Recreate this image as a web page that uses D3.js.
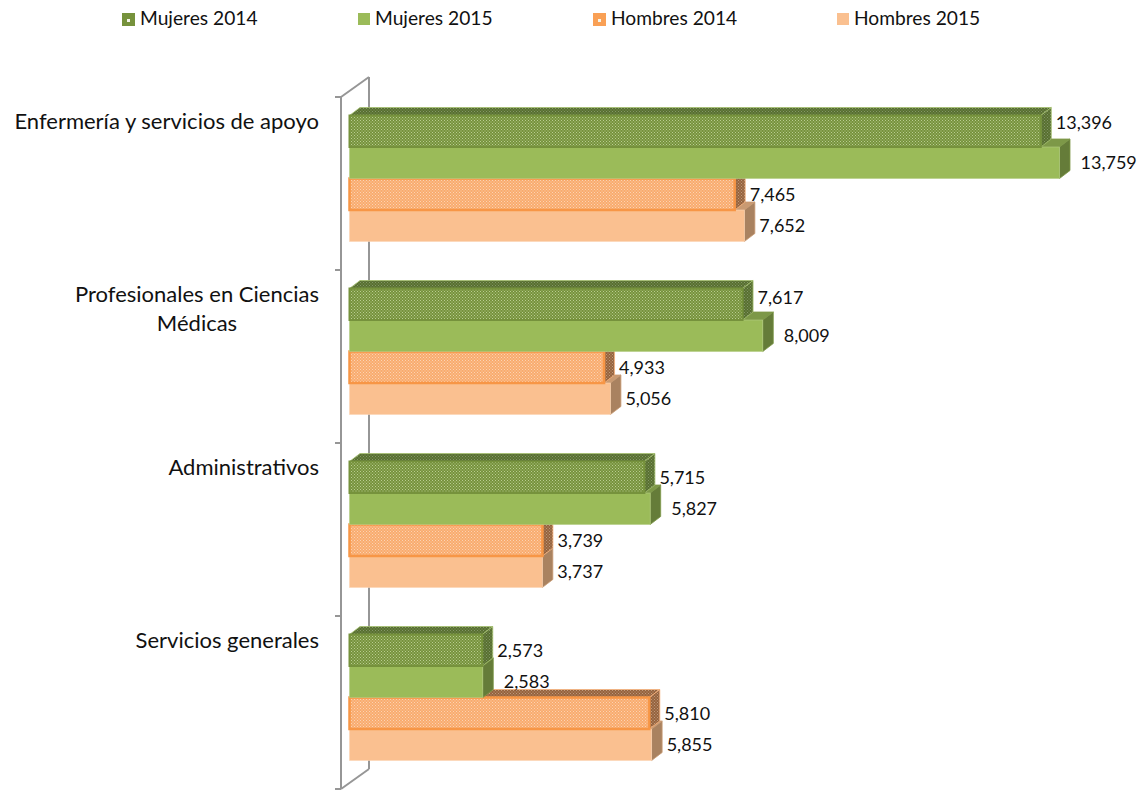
<!DOCTYPE html>
<html>
<head>
<meta charset="utf-8">
<script src="https://cdn.jsdelivr.net/npm/d3@7"></script>
<style>
  body { margin: 0; background: #fff; }
  text { font-family: Lato, sans-serif; fill: #111; }
</style>
</head>
<body>
<svg width="1146" height="791"></svg>
<script>
const categories = [
  "Enfermería y servicios de apoyo",
  "Profesionales en Ciencias Médicas",
  "Administrativos",
  "Servicios generales"
];
const seriesNames = ["Mujeres 2014", "Mujeres 2015", "Hombres 2014", "Hombres 2015"];
const mujeres2014 = [13396, 7617, 5715, 2573];
const mujeres2015 = [13759, 8009, 5827, 2583];
const hombres2014 = [7465, 4933, 3739, 5810];
const hombres2015 = [7652, 5056, 3737, 5855];
const seriesValues = [mujeres2014, mujeres2015, hombres2014, hombres2015];

const svg = d3.select("svg");
const defs = svg.append("defs");

// dotted fills for the 2014 series
function dots(id, bg, dot, size) {
  const p = defs.append("pattern")
    .attr("id", id)
    .attr("width", size)
    .attr("height", size)
    .attr("patternUnits", "userSpaceOnUse");
  p.append("rect").attr("width", size).attr("height", size).attr("fill", bg);
  p.append("rect").attr("width", 1).attr("height", 1).attr("fill", dot);
  p.append("rect").attr("x", size / 2).attr("y", size / 2).attr("width", 1).attr("height", 1).attr("fill", dot);
}
dots("greenFront", "#76923c", "#b9cd92", 3);
dots("greenSide", "#57702f", "#85956a", 3);
dots("orangeFront", "#f9ab6e", "#fcd3b2", 3);
dots("orangeSide", "#96633d", "#bd9a7e", 3);

const styles = [
  { front: "url(#greenFront)", top: "url(#greenSide)", side: "url(#greenSide)", stroke: "#76923c", sw: 2, edge: "#a5c06e" },
  { front: "#9bbb59", top: "#7d9848", side: "#657c39", stroke: "#b5cd85", sw: 0.6, edge: "#7d9848" },
  { front: "url(#orangeFront)", top: "url(#orangeSide)", side: "url(#orangeSide)", stroke: "#f79646", sw: 2.5, edge: "#f9b27c" },
  { front: "#fac090", top: "#c99a72", side: "#a98260", stroke: "#fcd5b5", sw: 0.6, edge: "#c99a72" }
];

const depthX = 10.5;
const depthY = 8;

const x = d3.scaleLinear().domain([0, 13759]).range([349.5, 1059.5]);
const y = d3.scaleBand().domain(categories).range([97, 789]);
const inner = d3.scaleBand().domain(d3.range(4)).range([18.5, 18.5 + 31.5 * 4]);

// axis wall
const wallX = 341;
const axisG = svg.append("g").attr("fill", "none").attr("stroke", "#969696").attr("stroke-width", 2);
axisG.append("line").attr("x1", wallX).attr("x2", wallX).attr("y1", 97).attr("y2", 789);
axisG.append("line").attr("x1", wallX + 28).attr("x2", wallX + 28).attr("y1", 77).attr("y2", 769);
axisG.append("line").attr("x1", wallX).attr("x2", wallX + 28).attr("y1", 97).attr("y2", 77);
axisG.append("line").attr("x1", wallX).attr("x2", wallX + 28).attr("y1", 789).attr("y2", 769);
axisG.selectAll(".tick")
  .data(categories.concat("end"))
  .join("line")
  .attr("x1", wallX - 6)
  .attr("x2", wallX)
  .attr("y1", (d, i) => 97 + y.step() * i)
  .attr("y2", (d, i) => 97 + y.step() * i);

// bars, lowest series first so each side face sits over the top face below it
const flat = [];
categories.forEach((c, ci) => {
  seriesValues.forEach((vals, si) => flat.push({ c, ci, si, v: vals[ci] }));
});
flat.sort((a, b) => (b.ci - a.ci) || (b.si - a.si));

const bars = svg.append("g").selectAll("g").data(flat).join("g");
bars.each(function(d) {
  const g = d3.select(this);
  const s = styles[d.si];
  const x0 = x(0);
  const x1 = x(d.v);
  const y0 = y(d.c) + inner(d.si);
  const y1 = y0 + inner.bandwidth();
  const poly = pts => pts.map(p => p.join(",")).join(" ");
  g.append("polygon")
    .attr("points", poly([[x0, y0], [x0 + depthX, y0 - depthY], [x1 + depthX, y0 - depthY], [x1, y0]]))
    .attr("fill", s.top).attr("stroke", s.edge).attr("stroke-width", 0.8);
  g.append("polygon")
    .attr("points", poly([[x1, y0], [x1 + depthX, y0 - depthY], [x1 + depthX, y1 - depthY], [x1, y1]]))
    .attr("fill", s.side).attr("stroke", s.edge).attr("stroke-width", 0.8);
  g.append("rect")
    .attr("x", x0).attr("y", y0)
    .attr("width", x1 - x0).attr("height", y1 - y0)
    .attr("fill", s.front).attr("stroke", s.stroke).attr("stroke-width", s.sw);
});

// value labels, Excel moved the top ones of the first two groups up
const labelOffset = [15, 21, 15, 15];
const labelNudge = (d) => (d.si === 0 && d.ci === 0) ? -7 : (d.si === 0 && d.ci === 1) ? -5 : 2;
svg.append("g").selectAll("text").data(flat).join("text")
  .attr("x", d => x(d.v) + labelOffset[d.si])
  .attr("y", d => y(d.c) + inner(d.si) + inner.bandwidth() / 2 - 2 + labelNudge(d))
  .attr("dy", "0.35em")
  .attr("font-size", 18)
  .text(d => d3.format(",")(d.v));

// category labels
const catLines = [
  ["Enfermería y servicios de apoyo"],
  ["Profesionales en Ciencias", "Médicas"],
  ["Administrativos"],
  ["Servicios generales"]
];
svg.append("g").selectAll("text").data(categories).join("text")
  .attr("y", d => y(d) + 32)
  .attr("font-size", 22)
  .attr("text-anchor", (d, i) => i === 1 ? "middle" : "end")
  .attr("x", (d, i) => i === 1 ? 197 : 319)
  .each(function(d, i) {
    d3.select(this).selectAll("tspan").data(catLines[i]).join("tspan")
      .attr("x", i === 1 ? 197 : 319)
      .attr("dy", (l, j) => j === 0 ? 0 : 29)
      .text(l => l);
  });

// legend
const legendX = [122, 358, 593, 837];
const legendSize = [13, 12, 13, 12];
const legendFill = ["#76923c", "#9bbb59", "#f9a055", "#fac090"];
const legend = svg.append("g").selectAll("g").data(seriesNames).join("g")
  .attr("transform", (d, i) => `translate(${legendX[i]},13)`);
legend.append("rect")
  .attr("width", (d, i) => legendSize[i]).attr("height", (d, i) => legendSize[i])
  .attr("fill", (d, i) => legendFill[i]);
// small light specks on the patterned keys
legend.filter((d, i) => i % 2 === 0).append("rect")
  .attr("x", 5).attr("y", 6).attr("width", 3).attr("height", 3)
  .attr("fill", "#f4f4e8");
legend.append("text")
  .attr("x", (d, i) => i % 2 === 0 ? 18 : 17).attr("y", 12)
  .attr("font-size", 19.2)
  .text(d => d);
</script>
</body>
</html>
